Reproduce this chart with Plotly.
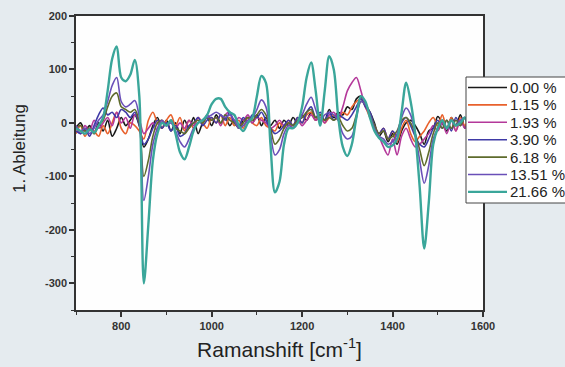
import plotly.graph_objects as go

x_vals = list(range(700, 1601, 10))

labels = ["0.00 %", "1.15 %", "1.93 %", "3.90 %", "6.18 %", "13.51 %", "21.66 %"]
colors = ["#1a1a1a", "#e8612c", "#b4389a", "#3f3aa6", "#5e6b2c", "#6a4fb8", "#3aa69a"]

y_000 = [-10, 0, -15, -5, -20, 0, -15, 5, -25, -10, 10, -5, 5, 15, -5, -45, -30, -5, 10, -10,
         5, -15, 0, -20, 5, -10, 10, -20, 0, 10, -5, 15, 0, 10, -5, 5, -10, 5, 10, 0,
         15, -5, 10, -5, 5, -10, 5, -5, 10, 0, 15, 5, 20, 5, 15, 5, 25, 10, 20, 15,
         30, 25, 45, 50, 35, 20, 0, -25, -15, -35, -20, -40, -15, 0, 5, -5, -20, -40, -15, -10,
         12, 0, -15, 10, -5, 15, -10, 10, -5, 5, 0]
y_115 = [-20, -5, -25, -10, -15, -25, -5, -20, 0, 20, -10, -20, 0, -5, -15, -30, 5, 20, 0, -10,
         5, 15, -5, 10, -15, 5, -10, 10, 0, -10, 10, 0, 15, -5, 10, -5, 5, -10, 10, 0,
         -5, 10, -5, -10, -15, 0, -10, 5, -5, 10, 0, 15, 20, 5, 15, 0, 10, 15, 5, 20,
         15, 30, 40, 45, 30, 10, -5, -20, -10, -30, -15, -35, -10, 5, -20, -35, -25, -15, 0, 10,
         -5, 15, -10, 10, -15, 10, -5, 15, -10, 5, -5]
y_193 = [-5, -20, -5, -15, 5, -10, 0, 10, -5, 20, 0, 10, -10, 15, 5, -20, -10, 0, -15, 5,
         -5, 5, -10, 0, -10, 5, -5, 10, 0, 15, 5, 10, -5, 15, 20, 0, 10, 5, 15, 0,
         10, 5, 0, -10, -5, 5, -5, 0, -10, 5, -5, 5, 15, 5, 10, 0, 15, 20, 10, 30,
         60, 75, 85, 60, 30, 15, -10, -25, -45, -60, -30, -60, -25, -10, -30, -45, -40, -30, -20, -5,
         -15, 0, -20, 5, -15, 5, -10, 10, -5, 5, 0]
y_390 = [-15, -20, -10, -25, -5, 15, 28, 15, 20, 10, 25, 20, 10, 20, -5, -40, -30, -10, 5, -10,
         0, -15, -5, -25, -20, -5, 0, 10, -5, 5, 10, 0, 15, 5, 20, 0, -5, 10, 0, 15,
         10, 20, 5, -10, -20, -15, -5, 5, -5, 10, 0, 20, 30, 10, 20, 5, 20, 5, 15, 10,
         5, 15, 30, 45, 30, 20, -5, -20, -10, -30, -15, -25, 0, 10, -5, -25, -40, -45, -30, -10,
         5, -10, 5, -15, 10, -5, 10, -10, 10, -5, 0]
y_618 = [-10, -5, -15, -10, -20, -5, 5, 30, 50, 56, 30, 25, 20, 25, 0, -100, -70, -25, 0, 5,
         -5, 5, -10, -15, -20, -10, 0, 5, 0, 10, 5, 10, 0, 15, 5, 0, -10, 0, 10, 5,
         15, 25, 15, -10, -40, -30, -10, 0, -5, 5, 10, 20, 25, 10, 15, 5, 10, 5, 10, -5,
         -15, -10, 15, 40, 35, 15, -5, -20, -15, -30, -25, -15, 5, 10, 0, -20, -50, -80, -55, -20,
         0, -10, 5, -10, 5, -5, 10, -10, 5, 0, -5]
y_1351 = [-5, -15, -10, -20, -10, 5, 15, 40, 70, 85, 40, 30, 35, 42, 10, -145, -100, -40, -10, 5,
          -5, 0, -15, -35, -45, -30, -10, 0, 5, 10, 15, 20, 15, 10, 15, 5, -10, -5, 5, 10,
          25, 43, 30, -20, -60, -50, -20, -5, -10, 0, 15, 35, 48, 25, 5, 15, 20, 15, 5, -20,
          -30, -25, 10, 40, 35, 15, -10, -25, -30, -40, -35, -20, 10, 28, 15, -20, -70, -113, -80, -30,
          -10, 5, -10, 5, -5, 5, 10, -10, 5, 0, -5]
y_2166 = [-10, -15, -20, -12, -18, -5, 10, 60, 120, 143, 85, 78, 90, 118, 50, -300, -190, -70, -20, 0,
          -5, 5, -20, -55, -68, -45, -15, 0, 5, 15, 35, 45, 45, 30, 20, 15, -5, -15, 0, 10,
          50, 88, 75, -40, -130, -110, -40, -10, -10, 0, 30, 85, 113, 60, -5, 60, 125, 100, 10, -45,
          -62, -40, 10, 50, 40, 10, -15, -28, -35, -45, -42, -30, 20, 75, 40, -20, -120, -235, -150, -40,
          -10, 5, -10, 5, -5, 0, 10, -15, 5, 0, -5]

series = [y_000, y_115, y_193, y_390, y_618, y_1351, y_2166]
widths = [1.6, 1.6, 1.6, 1.6, 1.6, 1.6, 2.4]

x_tickvals = [800, 1000, 1200, 1400, 1600]
x_ticktext = ["800", "1000", "1200", "1400", "1600"]
y_tickvals = [200, 100, 0, -100, -200, -300]
y_ticktext = ["200", "100", "0", "-100", "-200", "-300"]

FONT = "Liberation Sans, Arial, sans-serif"

# plot area in pixels (for placing the hand-built legend box)
L, R, T, B = 76, 483, 16, 310
def px_x(p):
    return (p - L) / (R - L)
def px_y(p):
    return (B - p) / (B - T)

fig = go.Figure()
for lab, col, ys, w in zip(labels, colors, series, widths):
    fig.add_trace(go.Scatter(x=x_vals, y=ys, mode="lines", name=lab, showlegend=False,
                             line=dict(color=col, width=w, shape="spline", smoothing=0.9)))

# legend: box + line samples + labels
shapes = [dict(type="rect", xref="paper", yref="paper",
               x0=px_x(466), x1=px_x(580), y0=px_y(203), y1=px_y(77),
               fillcolor="#ffffff", line=dict(color="#444444", width=1), layer="above")]
annotations = []
row0, step = 87.5, 17.4
for i, (lab, col, w) in enumerate(zip(labels, colors, widths)):
    yy = px_y(row0 + step * i)
    shapes.append(dict(type="line", xref="paper", yref="paper",
                       x0=px_x(468), x1=px_x(507), y0=yy, y1=yy,
                       line=dict(color=col, width=w), layer="above"))
    annotations.append(dict(text=lab, xref="paper", yref="paper", x=px_x(508), y=yy,
                            xanchor="left", yanchor="middle", showarrow=False,
                            font=dict(family=FONT, size=15, color="#222222")))

annotations.append(dict(text="1. Ableitung", xref="paper", yref="paper",
                        x=px_x(20), y=px_y(149), xanchor="center", yanchor="middle",
                        textangle=-90, showarrow=False,
                        font=dict(family=FONT, size=17, color="#222222")))

fig.update_layout(
    width=565, height=367,
    margin=dict(l=L, r=565 - R, t=T, b=367 - B, autoexpand=False),
    paper_bgcolor="#e5ebef",
    plot_bgcolor="#fefefe",
    showlegend=False,
    xaxis=dict(range=[700, 1600], tickvals=x_tickvals, ticktext=x_ticktext,
               ticks="outside", ticklen=5, tickwidth=1.5, tickcolor="#333333",
               showline=True, linecolor="#333333", linewidth=1.5, mirror=True,
               showgrid=False, zeroline=False,
               minor=dict(tickvals=[700, 900, 1100, 1300, 1500], ticks="outside", ticklen=3,
                          tickwidth=1.2, tickcolor="#333333", showgrid=False),
               tickfont=dict(family=FONT, size=11, color="#333333", weight="bold"),
               title=dict(text="Ramanshift [cm<sup>-1</sup>]", standoff=11,
                          font=dict(family=FONT, size=21, color="#222222"))),
    yaxis=dict(range=[-350, 200], tickvals=y_tickvals, ticktext=y_ticktext,
               ticks="outside", ticklen=5, tickwidth=1.5, tickcolor="#333333",
               showline=True, linecolor="#333333", linewidth=1.5, mirror=True,
               showgrid=False, zeroline=False,
               minor=dict(tickvals=[150, 50, -50, -150, -250, -350], ticks="outside", ticklen=3,
                          tickwidth=1.2, tickcolor="#333333", showgrid=False),
               tickfont=dict(family=FONT, size=11, color="#333333", weight="bold")),
    shapes=shapes,
    annotations=annotations,
)

fig.write_html("out.html", config={"displayModeBar": False},
               post_script="document.body.style.margin='0';document.body.style.overflow='hidden';")
